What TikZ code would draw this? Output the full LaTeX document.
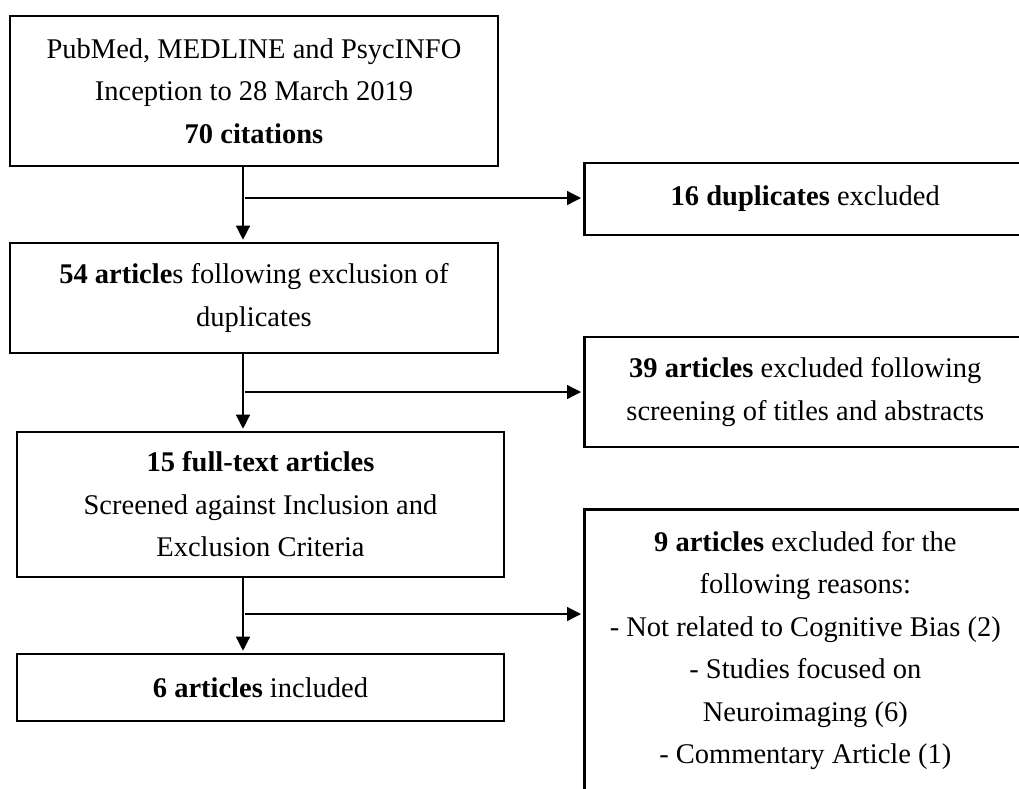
\documentclass[tikz,border=0pt]{standalone}
\usepackage{fontspec}
\setmainfont{Liberation Serif}
\usetikzlibrary{arrows.meta,calc}
\begin{document}
\begin{tikzpicture}[x=1pt,y=-1pt,
  box/.style={draw, line width=2.6pt, align=center, inner sep=0pt,
    font=\fontsize{28.5}{42.5}\selectfont},
  arr/.style={line width=1.3pt, -{Triangle[length=14pt,width=14pt]}, shorten >=2pt}]
\useasboundingbox (0,0) rectangle (1019,788);
\clip (0,0) rectangle (1019,788);
\fill[white] (0,0) rectangle (1019,788);
% left column
\node[box, minimum width=488pt, minimum height=150pt] (b1) at (254,91)
  {PubMed, MEDLINE and PsycINFO\\Inception to 28 March 2019\\\textbf{70 citations}};
\node[box, minimum width=488pt, minimum height=110pt] (b2) at (254,298)
  {\textbf{54 article}s following exclusion of\\duplicates};
\node[box, minimum width=487pt, minimum height=145pt] (b3) at (260.5,504.5)
  {\textbf{15 full-text articles}\\Screened against Inclusion and\\Exclusion Criteria};
\node[box, minimum width=487pt, minimum height=67pt] (b4) at (260.5,687.5)
  {\textbf{6 articles} included};
% right column
\node[box, minimum width=442pt, minimum height=72pt, anchor=west] (r1) at (583,199)
  {\textbf{16 duplicates} excluded};
\node[box, minimum width=442pt, minimum height=110pt, anchor=west] (r2) at (583,392)
  {\textbf{39 articles} excluded following\\screening of titles and abstracts};
\node[box, minimum width=442pt, inner ysep=22pt, anchor=north west] (r3) at (583,508)
  {\textbf{9 articles} excluded for the\\following reasons:\\- Not related to Cognitive Bias (2)\\- Studies focused on\\Neuroimaging (6)\\- Commentary Article (1)};
% connectors
\coordinate (ax) at (243,0);
\coordinate (j1) at (245,198);
\coordinate (j2) at (245,392);
\coordinate (j3) at (245,614);
\draw[arr] (b1.south -| ax) -- (b2.north -| ax);
\draw[arr] (b2.south -| ax) -- (b3.north -| ax);
\draw[arr] (b3.south -| ax) -- (b4.north -| ax);
\draw[arr] (j1) -- (r1.west |- j1);
\draw[arr] (j2) -- (r2.west |- j2);
\draw[arr] (j3) -- (r3.west |- j3);
\end{tikzpicture}
\end{document}
